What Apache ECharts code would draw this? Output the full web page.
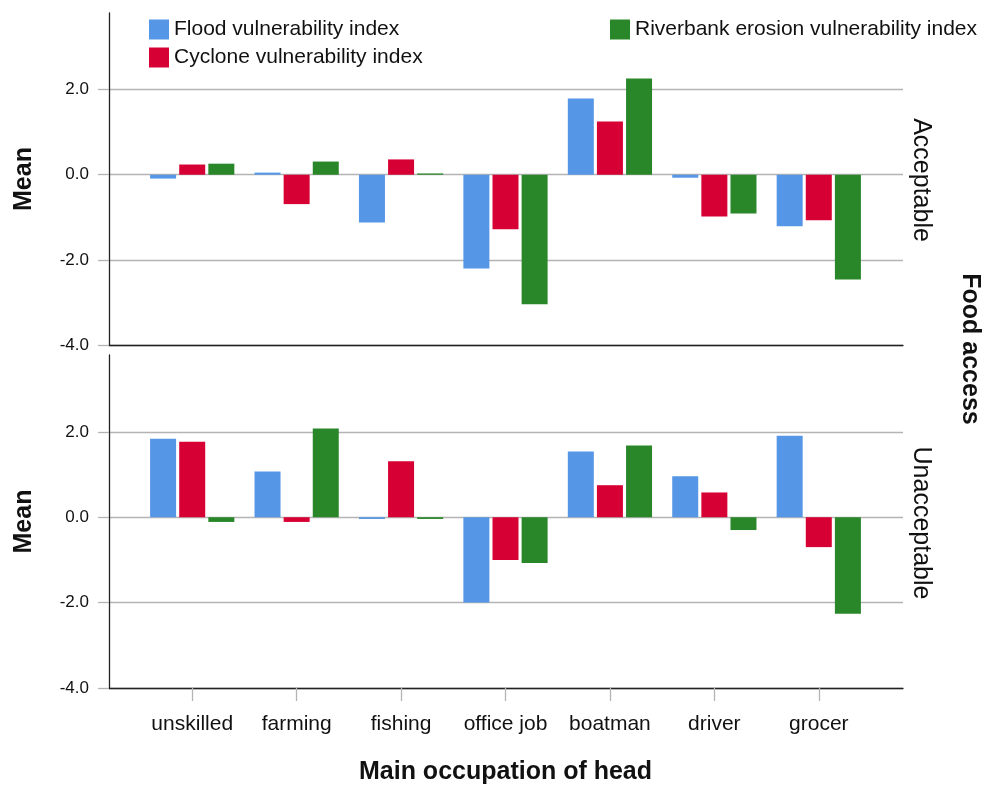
<!DOCTYPE html>
<html>
<head>
<meta charset="utf-8">
<script src="https://cdn.jsdelivr.net/npm/echarts@6/dist/echarts.min.js"></script>
<style>html,body{margin:0;padding:0;background:#fff}#c{width:995px;height:786px}</style>
</head>
<body>
<div id="c"></div>
<script>
const categories = ['unskilled', 'farming', 'fishing', 'office job', 'boatman', 'driver', 'grocer'];
const seriesNames = ['Flood vulnerability index', 'Cyclone vulnerability index', 'Riverbank erosion vulnerability index'];
const panelNames = ['Acceptable', 'Unacceptable'];
// Acceptable food access
const floodAcceptable = [-0.09, 0.05, -1.12, -2.20, 1.79, -0.07, -1.21];
const cycloneAcceptable = [0.24, -0.69, 0.36, -1.28, 1.25, -0.98, -1.07];
const riverbankAcceptable = [0.26, 0.31, 0.03, -3.04, 2.26, -0.91, -2.46];
// Unacceptable food access
const floodUnacceptable = [1.84, 1.07, -0.04, -2.00, 1.54, 0.96, 1.91];
const cycloneUnacceptable = [1.77, -0.11, 1.31, -1.00, 0.75, 0.58, -0.70];
const riverbankUnacceptable = [-0.11, 2.08, -0.04, -1.07, 1.68, -0.30, -2.26];
const yTicks = [-4, -2, 0, 2];
const yMin = -4, yMax = 3.8;

const colors = ['#5596E6', '#D70034', '#298729'];
const FONT = 'Liberation Sans, Arial, sans-serif';
const chart = echarts.init(document.getElementById('c'), null, {renderer: 'canvas'});

const frameLeft = 109, frameRight = 92;
const barLeft = 140, barRight = 124;
const panels = [{top: 13, height: 332}, {top: 355, height: 333}];

const grids = [], xAxes = [], yAxes = [], series = [];
panels.forEach((p, i) => {
  grids.push({left: frameLeft, right: frameRight, top: p.top, height: p.height});
  grids.push({left: barLeft, right: barRight, top: p.top, height: p.height});
  const fg = grids.length - 2, bg = grids.length - 1;
  xAxes.push({
    gridIndex: fg, type: 'category', data: [''],
    axisLine: {show: true, onZero: false, lineStyle: {color: '#222', width: 1.3}},
    axisTick: {show: false}, axisLabel: {show: false}, splitLine: {show: false}
  });
  const last = i === panels.length - 1;
  xAxes.push({
    gridIndex: bg, type: 'category', data: categories,
    axisLine: {show: false, onZero: false},
    axisTick: {show: last, interval: 0, alignWithLabel: true, length: 13, lineStyle: {color: '#b4b4b4', width: 1.3}},
    axisLabel: {show: last, interval: 0, hideOverlap: false, margin: 26, fontFamily: FONT, fontSize: 21, color: '#111'},
    splitLine: {show: false},
    name: last ? 'Main occupation of head' : '',
    nameLocation: 'middle', nameGap: 72,
    nameTextStyle: {fontFamily: FONT, fontSize: 25, fontWeight: 'bold', color: '#111'}
  });
  yAxes.push({
    gridIndex: fg, type: 'value', min: yMin, max: yMax, interval: 2,
    axisLine: {show: true, lineStyle: {color: '#222', width: 1.3}},
    axisTick: {show: true, length: 11, customValues: yTicks, lineStyle: {color: '#b4b4b4', width: 1.3}},
    axisLabel: {customValues: yTicks, margin: 20, fontFamily: FONT, fontSize: 17, color: '#111',
      formatter: v => v.toFixed(1)},
    splitLine: {show: true, lineStyle: {color: ['#b4b4b4', '#b4b4b4', '#b4b4b4', '#b4b4b4', 'rgba(0,0,0,0)'], width: 1.3}},
    name: 'Mean', nameLocation: 'middle', nameGap: 72,
    nameTextStyle: {fontFamily: FONT, fontSize: 25, fontWeight: 'bold', color: '#111'}
  });
  yAxes.push({gridIndex: bg, type: 'value', min: yMin, max: yMax, show: false, splitLine: {show: false}});
});

const panelData = [
  [floodAcceptable, cycloneAcceptable, riverbankAcceptable],
  [floodUnacceptable, cycloneUnacceptable, riverbankUnacceptable]
];
panelData.forEach((arrs, p) => {
  arrs.forEach((d, s) => {
    series.push({
      type: 'bar', name: seriesNames[s], xAxisIndex: p * 2 + 1, yAxisIndex: p * 2 + 1,
      data: d, barWidth: 26, barGap: '12%', itemStyle: {color: colors[s]},
      emphasis: {disabled: true}, z: 3
    });
  });
});

const legendCommon = {
  icon: 'rect', itemWidth: 20, itemHeight: 20, itemGap: 7, orient: 'vertical', selectedMode: false,
  textStyle: {fontFamily: FONT, fontSize: 21, color: '#111'}, padding: 0
};

chart.setOption({
  animation: false,
  color: colors,
  grid: grids, xAxis: xAxes, yAxis: yAxes, series: series,
  legend: [
    Object.assign({}, legendCommon, {left: 149, top: 19, data: [seriesNames[0], seriesNames[1]]}),
    Object.assign({}, legendCommon, {left: 610, top: 19, data: [seriesNames[2]]})
  ],
  graphic: [
    {type: 'text', x: 921, y: 180, rotation: -Math.PI / 2,
      style: {text: panelNames[0], align: 'center', verticalAlign: 'middle', font: '25px ' + FONT, fill: '#111'}},
    {type: 'text', x: 921, y: 523, rotation: -Math.PI / 2,
      style: {text: panelNames[1], align: 'center', verticalAlign: 'middle', font: '25px ' + FONT, fill: '#111'}},
    {type: 'text', x: 970, y: 349, rotation: -Math.PI / 2,
      style: {text: 'Food access', align: 'center', verticalAlign: 'middle', font: 'bold 25px ' + FONT, fill: '#111'}}
  ]
});
</script>
</body>
</html>
